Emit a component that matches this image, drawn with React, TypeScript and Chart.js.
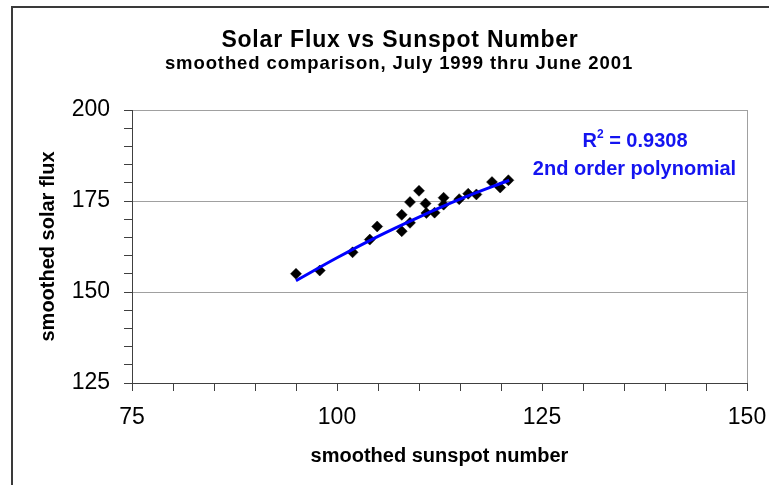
import React, { useEffect, useRef } from 'react';
import { Chart, registerables } from 'chart.js';

Chart.register(...registerables);

// ---- data ----
const sunspot = [95.0, 97.9, 101.9, 104.0, 104.9, 107.9, 107.9, 108.9, 108.9, 110.0, 110.8, 110.9, 111.9, 113.0, 113.0, 114.9, 116.0, 117.0, 118.9, 119.9, 120.9];
const solarFlux = [155.0, 155.9, 160.9, 164.4, 168.0, 171.2, 166.7, 169.0, 174.7, 177.8, 174.3, 171.7, 171.8, 175.9, 174.0, 175.5, 177.0, 176.8, 180.2, 178.7, 180.7];

// 2nd order polynomial trendline
const trendSunspot = [95, 100, 105, 110, 115, 121];
const trendFlux = [153.1, 159.4, 165.3, 170.6, 175.5, 180.7];

const xTickLabels = [75, 100, 125, 150];
const yTickLabels = [125, 150, 175, 200];
const yGridValues = [150, 175, 200];
const xGridValues = [150];

const titleText = 'Solar Flux vs Sunspot Number';
const subtitleText = 'smoothed comparison, July 1999 thru June 2001';
const xTitle = 'smoothed sunspot number';
const yTitle = 'smoothed solar flux';
const r2Value = '0.9308';
const fitLabel = '2nd order polynomial';

const FONT = "'Liberation Sans', Arial, Helvetica, sans-serif";

export default function App() {
  const ref = useRef<HTMLCanvasElement>(null);

  useEffect(() => {
    const canvas = ref.current;
    if (!canvas) return;
    Chart.defaults.font.family = FONT;

    const decor = {
      id: 'decor',
      beforeDraw(chart: any) {
        const ctx = chart.ctx as CanvasRenderingContext2D;
        ctx.save();
        ctx.fillStyle = '#ffffff';
        ctx.fillRect(0, 0, chart.width, chart.height);
        ctx.strokeStyle = '#3a3a3a';
        ctx.lineWidth = 2;
        ctx.beginPath();
        ctx.moveTo(12, chart.height);
        ctx.lineTo(12, 7);
        ctx.lineTo(chart.width, 7);
        ctx.stroke();
        ctx.restore();
      },
      afterDraw(chart: any) {
        const ctx = chart.ctx as any;
        const area = chart.chartArea;
        ctx.save();
        ctx.fillStyle = '#000';
        ctx.textAlign = 'center';
        ctx.textBaseline = 'alphabetic';
        ctx.font = `bold 23px ${FONT}`;
        ctx.letterSpacing = '0.8px';
        ctx.fillText(titleText, 400, 47);
        ctx.font = `bold 18.5px ${FONT}`;
        ctx.letterSpacing = '0.9px';
        ctx.fillText(subtitleText, 399, 69);
        ctx.letterSpacing = '0px';

        // regression annotation
        ctx.fillStyle = '#1414f0';
        const cx = area.right - 112;
        const base1 = area.top + 36.5;
        ctx.textAlign = 'left';
        ctx.font = `bold 20px ${FONT}`;
        const wR = ctx.measureText('R').width;
        const rest = ' = ' + r2Value;
        const wRest = ctx.measureText(rest).width;
        ctx.font = `bold 12px ${FONT}`;
        const w2 = ctx.measureText('2').width;
        let x = cx - (wR + w2 + wRest) / 2;
        ctx.font = `bold 20px ${FONT}`;
        ctx.fillText('R', x, base1);
        x += wR;
        ctx.font = `bold 12px ${FONT}`;
        ctx.fillText('2', x, base1 - 9);
        x += w2;
        ctx.font = `bold 20px ${FONT}`;
        ctx.fillText(rest, x, base1);
        ctx.textAlign = 'center';
        ctx.fillText(fitLabel, cx - 0.5, base1 + 28);
        ctx.restore();
      },
    };

    const chart = new Chart(canvas, {
      type: 'scatter',
      data: {
        datasets: [
          {
            type: 'line',
            label: 'fit',
            data: trendSunspot.map((v, i) => ({ x: v, y: trendFlux[i] })),
            borderColor: '#0000ff',
            borderWidth: 3,
            pointRadius: 0,
            cubicInterpolationMode: 'monotone',
            fill: false,
            order: 0,
          } as any,
          {
            type: 'scatter',
            label: 'observed',
            data: sunspot.map((v, i) => ({ x: v, y: solarFlux[i] })),
            pointStyle: 'rectRot',
            pointRadius: 5.5,
            backgroundColor: '#000',
            borderColor: '#000',
            borderWidth: 0.5,
            order: 1,
          } as any,
        ],
      },
      options: {
        responsive: false,
        animation: false,
        layout: { padding: { top: 110, right: 22, bottom: 0, left: 0 } },
        plugins: {
          legend: { display: false },
          tooltip: { enabled: false },
          title: { display: false },
        },
        scales: {
          x: {
            type: 'linear',
            min: 75,
            max: 150,
            afterFit: (s: any) => {
              s.height = 102;
              s.paddingLeft = 0;
              s.paddingRight = 0;
            },
            border: { color: '#404040', width: 1 },
            grid: {
              color: (c: any) => (c.tick && xGridValues.includes(c.tick.value) ? '#a0a0a0' : 'rgba(0,0,0,0)'),
              tickColor: '#404040',
              tickLength: 8,
            },
            ticks: {
              stepSize: 5,
              autoSkip: false,
              maxRotation: 0,
              padding: 13,
              color: '#000',
              font: { size: 23 },
              callback: (v: any) => (xTickLabels.includes(Number(v)) ? String(v) : ''),
            },
            title: {
              display: true,
              text: xTitle,
              color: '#000',
              font: { size: 20, weight: 'bold' },
              padding: { top: 0, bottom: 17 },
            },
          },
          y: {
            type: 'linear',
            min: 125,
            max: 200,
            afterFit: (s: any) => {
              s.width = 132;
            },
            border: { color: '#404040', width: 1 },
            grid: {
              color: (c: any) => (c.tick && yGridValues.includes(c.tick.value) ? '#a0a0a0' : 'rgba(0,0,0,0)'),
              tickColor: '#404040',
              tickLength: 8,
            },
            ticks: {
              stepSize: 5,
              autoSkip: false,
              padding: 14,
              color: '#000',
              font: { size: 23 },
              callback: (v: any) => (yTickLabels.includes(Number(v)) ? String(v) : ''),
            },
            title: {
              display: true,
              text: yTitle,
              color: '#000',
              font: { size: 20, weight: 'bold' },
              padding: { top: 36, bottom: 0 },
            },
          },
        },
      } as any,
      plugins: [decor],
    });

    return () => chart.destroy();
  }, []);

  return (
    <div style={{ position: 'absolute', left: 0, top: 0, width: 769, height: 485 }}>
      <canvas ref={ref} width={769} height={485} style={{ display: 'block' }} />
    </div>
  );
}
